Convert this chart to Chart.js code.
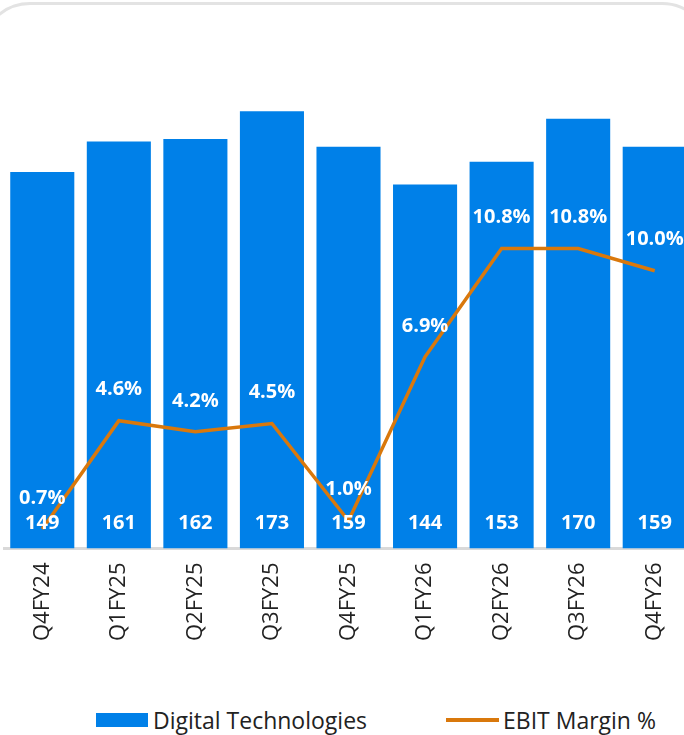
<!DOCTYPE html>
<html>
<head>
<meta charset="utf-8">
<script src="https://cdn.jsdelivr.net/npm/chart.js@4.4.1/dist/chart.umd.min.js"></script>
<style>
  html, body { margin: 0; padding: 0; background: #fff; overflow: hidden; width: 684px; height: 735px; }
  .card { position: absolute; left: -20px; top: 2px; width: 726px; height: 820px; border: 3px solid #e3e3e3; border-radius: 50px; }
  .wrap { position: absolute; left: 0; top: 0; width: 700px; height: 668px; }
  .legend { position: absolute; top: 706px; left: 0; width: 684px; height: 28px; font-family: "Open Sans", "Noto Sans", sans-serif; font-size: 23px; color: #222; }
  .legend span { position: absolute; top: 0; line-height: 28px; white-space: nowrap; }
  .legend i { position: absolute; display: block; }
</style>
</head>
<body>
<div class="card"></div>
<div class="wrap"><canvas id="myChart" width="700" height="668"></canvas></div>
<div class="legend">
  <i style="left:96px; top:7px; width:52px; height:14px; background:#0080E8"></i>
  <span style="left:153px">Digital Technologies</span>
  <i style="left:446px; top:12px; width:53px; height:4px; background:#D9780C"></i>
  <span style="left:503px">EBIT Margin %</span>
</div>
<script>
const quarters = ['Q4FY24', 'Q1FY25', 'Q2FY25', 'Q3FY25', 'Q4FY25', 'Q1FY26', 'Q2FY26', 'Q3FY26', 'Q4FY26']
const digitalTech = [149, 161, 162, 173, 159, 144, 153, 170, 159]
const ebitMargin = [0.7, 4.6, 4.2, 4.5, 1.0, 6.9, 10.8, 10.8, 10.0]

const FONT = '"Open Sans", "Noto Sans", sans-serif'

// draws the white value labels, no datalabels plugin offline
const valueLabels = {
    id: 'valueLabels',
    afterDatasetsDraw(chart) {
        const ctx = chart.ctx
        const yScale = chart.scales.y
        ctx.save()
        ctx.fillStyle = '#ffffff'
        ctx.font = 'bold 20px ' + FONT
        ctx.textAlign = 'center'
        ctx.textBaseline = 'middle'
        chart.getDatasetMeta(1).data.forEach((bar, i) => {
            ctx.fillText(digitalTech[i], bar.x, yScale.getPixelForValue(0) - 25)
        })
        chart.getDatasetMeta(0).data.forEach((pt, i) => {
            ctx.fillText(ebitMargin[i].toFixed(1) + '%', pt.x, pt.y - 31)
        })
        ctx.restore()
    }
}

var ctx = document.getElementById('myChart')
var myChart = new Chart(ctx, {
    data: {
        labels: quarters,
        datasets: [{
            type: 'line',
            label: 'EBIT Margin %',
            data: ebitMargin,
            yAxisID: 'y2',
            borderColor: '#D9780C',
            borderWidth: 3.5,
            pointRadius: 0,
            tension: 0,
            order: 0
        }, {
            type: 'bar',
            label: 'Digital Technologies',
            data: digitalTech,
            yAxisID: 'y',
            backgroundColor: '#0080E8',
            categoryPercentage: 1,
            barPercentage: 0.837,
            order: 1
        }]
    },
    options: {
        responsive: false,
        animation: false,
        layout: { padding: { left: 4, right: 7, top: 43, bottom: 13 } },
        plugins: {
            legend: { display: false },
            tooltip: { enabled: false }
        },
        scales: {
            x: {
                grid: { display: false, drawTicks: false },
                border: { display: true, color: '#d9d9d9', width: 3 },
                ticks: {
                    color: '#222',
                    font: { family: FONT, size: 22 },
                    minRotation: 90,
                    maxRotation: 90,
                    padding: 14
                }
            },
            y: { display: false, min: 0, max: 200 },
            y2: { display: false, min: 0, max: 18.2 }
        }
    },
    plugins: [valueLabels]
})
</script>
</body>
</html>
